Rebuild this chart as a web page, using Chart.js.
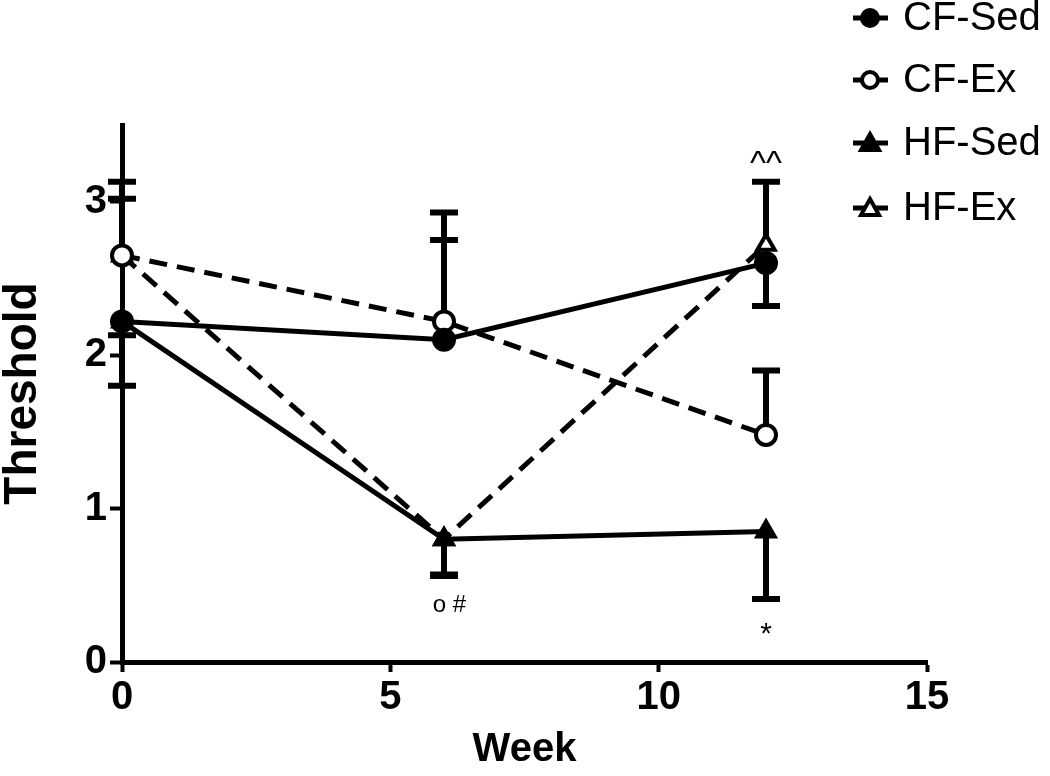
<!DOCTYPE html>
<html>
<head>
<meta charset="utf-8">
<script src="https://cdn.jsdelivr.net/npm/chart.js@4.4.1/dist/chart.umd.min.js"></script>
<style>
html, body { margin: 0; padding: 0; background: #fff; }
#wrap { width: 1050px; height: 776px; }
</style>
</head>
<body>
<div id="wrap"><canvas id="thresholdChart" width="1050" height="776"></canvas></div>
<script>
const weeks = [0, 6, 12];
const cfSed = [2.22, 2.10, 2.60];
const cfEx = [2.65, 2.22, 1.48];
const hfSed = [2.22, 0.80, 0.85];
const hfEx = [2.65, 0.80, 2.72];
// end of the (one-sided) error bar for each point
const cfSedErr = [1.80, 2.75, 2.32];
const cfExErr = [3.13, 2.93, 1.90];
const hfSedErr = [2.13, 0.56, 0.41];
const hfExErr = [3.02, 0.57, 3.13];
const seriesNames = ["CF-Sed", "CF-Ex", "HF-Sed", "HF-Ex"];
// significance marks
const markText = ["^^", "o #", "*"];
const markWeek = [12, 6.1, 12];
const markY = [3.24, 0.37, 0.18];

const FONT = "'Liberation Sans', Arial, Helvetica, sans-serif";

function pts(vals) {
    return weeks.map((w, i) => ({ x: w, y: vals[i] }));
}

const errEnds = [cfSedErr, cfExErr, hfSedErr, hfExErr];

const errorBars = {
    id: "errorBars",
    beforeDatasetsDraw(chart) {
        const ctx = chart.ctx;
        const xs = chart.scales.x, ys = chart.scales.y;
        ctx.save();
        ctx.strokeStyle = "#000";
        ctx.lineWidth = 6;
        chart.data.datasets.forEach((ds, i) => {
            ds.data.forEach((p, j) => {
                const px = xs.getPixelForValue(p.x);
                const y0 = ys.getPixelForValue(p.y);
                const y1 = ys.getPixelForValue(errEnds[i][j]);
                ctx.beginPath();
                ctx.moveTo(px, y0);
                ctx.lineTo(px, y1);
                ctx.moveTo(px - 14, y1);
                ctx.lineTo(px + 14, y1);
                ctx.stroke();
            });
        });
        ctx.restore();
    }
};

const marksAndLegend = {
    id: "marksAndLegend",
    afterDraw(chart) {
        const ctx = chart.ctx;
        const xs = chart.scales.x, ys = chart.scales.y;
        ctx.save();
        ctx.fillStyle = "#000";
        ctx.textAlign = "center";
        ctx.textBaseline = "middle";
        const markSize = ["34px ", "24px ", "30px "];
        markText.forEach((t, i) => {
            ctx.font = markSize[i] + FONT;
            ctx.fillText(t, xs.getPixelForValue(markWeek[i]), ys.getPixelForValue(markY[i]));
        });

        // legend
        const rows = [18, 80, 143, 208];
        chart.data.datasets.forEach((ds, i) => {
            const y = rows[i];
            ctx.strokeStyle = "#000";
            ctx.lineWidth = 5;
            ctx.setLineDash([]);
            ctx.beginPath();
            ctx.moveTo(853, y);
            ctx.lineTo(888, y);
            ctx.stroke();
            ctx.lineWidth = 4;
            ctx.fillStyle = ds.pointBackgroundColor;
            ctx.beginPath();
            if (ds.pointStyle === "circle") {
                ctx.arc(870, y, 8, 0, Math.PI * 2);
            } else {
                ctx.moveTo(870, y - 9);
                ctx.lineTo(879, y + 7);
                ctx.lineTo(861, y + 7);
                ctx.closePath();
            }
            ctx.fill();
            ctx.stroke();
            ctx.fillStyle = "#000";
            ctx.textAlign = "left";
            ctx.font = "40px " + FONT;
            ctx.fillText(ds.label, 903, y + 1);
        });
        ctx.restore();
    }
};

function lineSet(label, vals, dashed, style, filled) {
    return {
        label: label,
        data: pts(vals),
        borderColor: "#000",
        borderWidth: 5,
        borderDash: dashed ? [18, 10] : [],
        pointStyle: style,
        pointRadius: 10,
        pointBorderWidth: 4,
        pointBorderColor: "#000",
        pointBackgroundColor: filled ? "#000" : "#fff",
        fill: false,
        tension: 0,
        clip: false
    };
}

new Chart(document.getElementById("thresholdChart").getContext("2d"), {
    type: "line",
    data: {
        datasets: [
            lineSet(seriesNames[0], cfSed, false, "circle", true),
            lineSet(seriesNames[1], cfEx, true, "circle", false),
            lineSet(seriesNames[2], hfSed, false, "triangle", true),
            lineSet(seriesNames[3], hfEx, true, "triangle", false)
        ]
    },
    options: {
        responsive: false,
        animation: false,
        layout: { padding: { left: 0, top: 125, right: 123, bottom: 0 } },
        plugins: { legend: { display: false }, tooltip: { enabled: false } },
        scales: {
            x: {
                type: "linear",
                min: 0,
                max: 15,
                afterFit: s => { s.height = 114; },
                border: { display: true, color: "#000", width: 5 },
                grid: { drawOnChartArea: false, drawTicks: true, tickLength: 10, tickWidth: 4, tickColor: "#000" },
                ticks: { stepSize: 5, color: "#000", padding: 2, font: { family: FONT, size: 40, weight: "bold" } },
                title: { display: true, text: "Week", color: "#000", padding: { top: 0, bottom: 2 }, font: { family: FONT, size: 40, weight: "bold" } }
            },
            y: {
                min: 0,
                max: 3.5,
                afterFit: s => { s.width = 122; },
                border: { display: true, color: "#000", width: 5 },
                grid: { drawOnChartArea: false, drawTicks: true, tickLength: 12, tickWidth: 4, tickColor: "#000" },
                ticks: { stepSize: 1, includeBounds: false, color: "#000", padding: 3, font: { family: FONT, size: 40, weight: "bold" } },
                title: { display: true, text: "Threshold", color: "#000", padding: { top: 0, bottom: 0 }, font: { family: FONT, size: 46, weight: "bold", lineHeight: 1 } }
            }
        }
    },
    plugins: [errorBars, marksAndLegend]
});
</script>
</body>
</html>
